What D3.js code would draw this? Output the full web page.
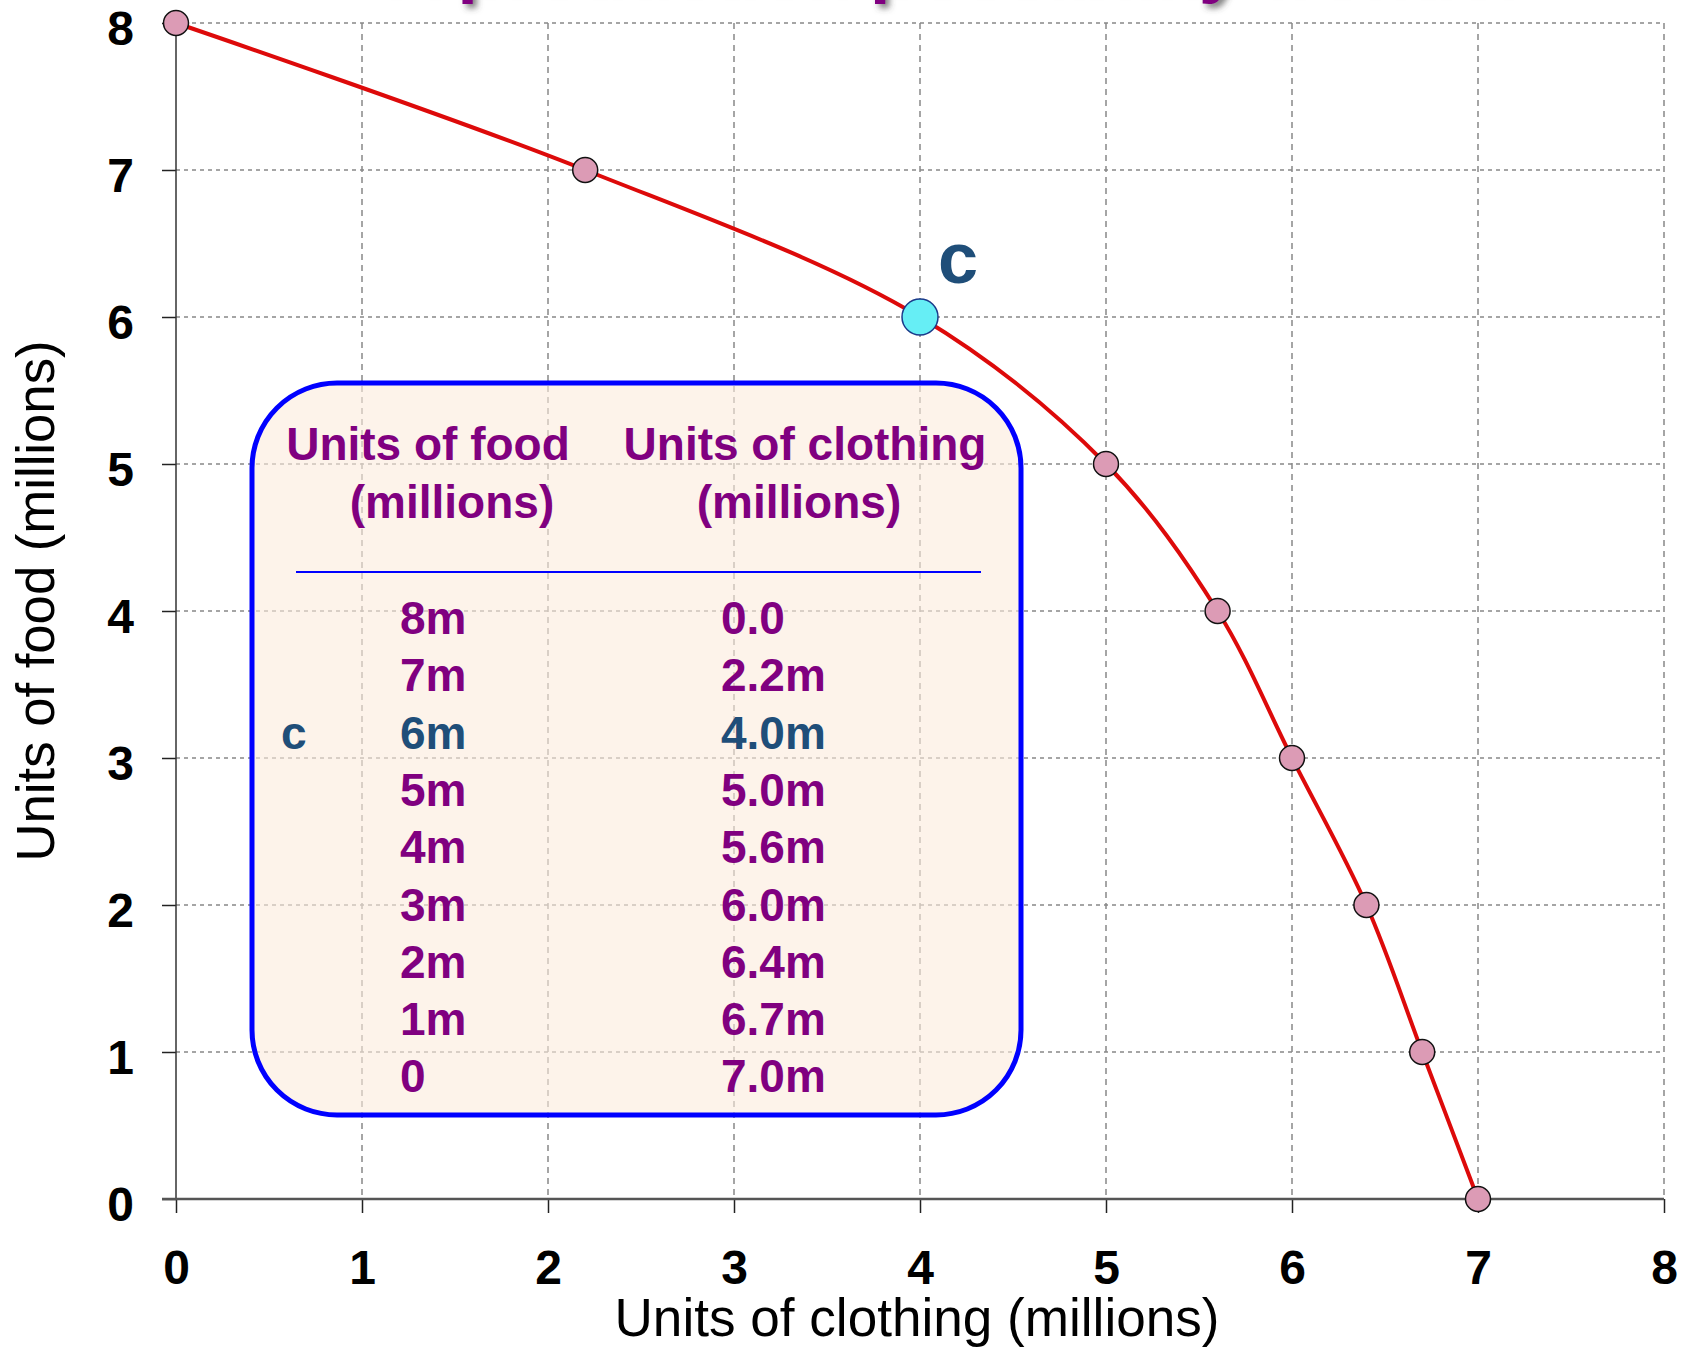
<!DOCTYPE html>
<html>
<head>
<meta charset="utf-8">
<script src="https://cdn.jsdelivr.net/npm/d3@7"></script>
<style>
  body { margin: 0; background: #fff; }
  svg { display: block; }
</style>
</head>
<body>
<div id="chart"></div>
<script>
// production possibility data (millions)
let foodUnits = [8, 7, 6, 5, 4, 3, 2, 1, 0]
let clothingUnits = [0.0, 2.2, 4.0, 5.0, 5.6, 6.0, 6.4, 6.7, 7.0]
let foodLabels = ["8m", "7m", "6m", "5m", "4m", "3m", "2m", "1m", "0"]
let clothingLabels = ["0.0", "2.2m", "4.0m", "5.0m", "5.6m", "6.0m", "6.4m", "6.7m", "7.0m"]
let pointNames = ["", "", "c", "", "", "", "", "", ""]
let xTicks = [0, 1, 2, 3, 4, 5, 6, 7, 8]
let yTicks = [0, 1, 2, 3, 4, 5, 6, 7, 8]

let width = 1684,
    height = 1349

let plot = { left: 176, right: 1664, top: 23, bottom: 1199 }

let purple = "#800080",
    navy = "#1f4e79",
    narrow = "'Liberation Sans Narrow', 'Arial Narrow', 'Liberation Sans', Arial, sans-serif",
    sans = "'Liberation Sans', Arial, sans-serif"

let data = foodUnits.map(function (f, i) {
    return { food: f, clothing: clothingUnits[i], name: pointNames[i] }
})

let xScale = d3.scaleLinear().domain([0, 8]).range([plot.left, plot.right])
let yScale = d3.scaleLinear().domain([0, 8]).range([plot.bottom, plot.top])

let svg = d3.select("#chart")
    .append("svg")
    .attr("width", width)
    .attr("height", height)

let defs = svg.append("defs")
defs.append("filter")
    .attr("id", "shadow")
    .attr("x", "-20%").attr("y", "-50%")
    .attr("width", "140%").attr("height", "200%")
    .append("feDropShadow")
    .attr("dx", 4).attr("dy", 4)
    .attr("stdDeviation", 3)
    .attr("flood-color", "#444")
    .attr("flood-opacity", 0.7)

// title, cut off by the top edge (only descenders show)
svg.append("text")
    .attr("x", 385)
    .attr("y", -11)
    .attr("font-family", sans)
    .attr("font-weight", "bold")
    .attr("font-size", 75)
    .attr("fill", purple)
    .attr("filter", "url(#shadow)")
    .text("A production possibility frontier")

// grid
svg.append("g")
    .selectAll("line")
    .data(yTicks.filter(function (d) { return d > 0 }))
    .enter().append("line")
    .attr("x1", plot.left).attr("x2", plot.right)
    .attr("y1", function (d) { return yScale(d) })
    .attr("y2", function (d) { return yScale(d) })
    .attr("stroke", "#888")
    .attr("stroke-width", 1.5)
    .attr("stroke-dasharray", "4,4")

svg.append("g")
    .selectAll("line")
    .data(xTicks.filter(function (d) { return d > 0 }))
    .enter().append("line")
    .attr("x1", function (d) { return xScale(d) })
    .attr("x2", function (d) { return xScale(d) })
    .attr("y1", plot.top).attr("y2", plot.bottom)
    .attr("stroke", "#888")
    .attr("stroke-width", 1.5)
    .attr("stroke-dasharray", "6,5")

// axes
let xAxis = d3.axisBottom(xScale)
    .tickValues(xTicks)
    .tickSize(14)
    .tickPadding(37)
    .tickFormat(d3.format("d"))

let yAxis = d3.axisLeft(yScale)
    .tickValues(yTicks)
    .tickSize(14)
    .tickPadding(28)
    .tickFormat(d3.format("d"))

let gx = svg.append("g")
    .attr("transform", "translate(0," + plot.bottom + ")")
    .call(xAxis)
gx.select(".domain").remove()
gx.selectAll(".tick line").attr("stroke", "#222").attr("stroke-width", 1.5)

let gy = svg.append("g")
    .attr("transform", "translate(" + plot.left + ",0)")
    .call(yAxis)
gy.select(".domain").remove()
gy.selectAll(".tick line").attr("stroke", "#222").attr("stroke-width", 1.5)
gy.selectAll(".tick text").attr("dy", "0.45em")

svg.selectAll(".tick text")
    .attr("font-family", narrow)
    .attr("font-weight", "bold")
    .attr("font-size", 48)
    .attr("fill", "#000")

// axis lines
svg.append("line")
    .attr("x1", plot.left).attr("x2", plot.left)
    .attr("y1", plot.top).attr("y2", plot.bottom)
    .attr("stroke", "#333").attr("stroke-width", 1.5)

svg.append("line")
    .attr("x1", plot.left - 14).attr("x2", plot.right)
    .attr("y1", plot.bottom).attr("y2", plot.bottom)
    .attr("stroke", "#555").attr("stroke-width", 2.5)

// axis titles
svg.append("text")
    .attr("x", 917)
    .attr("y", 1336)
    .attr("text-anchor", "middle")
    .attr("font-family", narrow)
    .attr("font-size", 53)
    .attr("textLength", 605)
    .attr("lengthAdjust", "spacingAndGlyphs")
    .text("Units of clothing (millions)")

svg.append("text")
    .attr("transform", "translate(54,601) rotate(-90)")
    .attr("text-anchor", "middle")
    .attr("font-family", narrow)
    .attr("font-size", 53)
    .attr("textLength", 521)
    .attr("lengthAdjust", "spacingAndGlyphs")
    .text("Units of food (millions)")

// table box
let box = { x: 252, y: 383, w: 769, h: 732 }

svg.append("rect")
    .attr("x", box.x).attr("y", box.y)
    .attr("width", box.w).attr("height", box.h)
    .attr("rx", 85).attr("ry", 85)
    .attr("fill", "#fcebdc")
    .attr("fill-opacity", 0.6)
    .attr("stroke", "#0000ff")
    .attr("stroke-width", 5)

let header = svg.append("g")
    .attr("font-family", narrow)
    .attr("font-weight", "bold")
    .attr("font-size", 46)
    .attr("fill", purple)
    .attr("text-anchor", "middle")

header.append("text").attr("x", 428).attr("y", 460).text("Units of food")
header.append("text").attr("x", 452).attr("y", 518).text("(millions)")
header.append("text").attr("x", 805).attr("y", 460).text("Units of clothing")
header.append("text").attr("x", 799).attr("y", 518).text("(millions)")

svg.append("line")
    .attr("x1", 296).attr("x2", 981)
    .attr("y1", 572).attr("y2", 572)
    .attr("stroke", "#0000ff")
    .attr("stroke-width", 2)

let rowStep = 57.3
let rows = svg.append("g")
    .attr("font-family", narrow)
    .attr("font-weight", "bold")
    .attr("font-size", 46)
    .selectAll("g")
    .data(data)
    .enter().append("g")
    .attr("transform", function (d, i) { return "translate(0," + (634 + i * rowStep) + ")" })
    .attr("fill", function (d) { return d.name ? navy : purple })

rows.append("text").attr("x", 281).text(function (d) { return d.name })
rows.append("text").attr("x", 400).text(function (d, i) { return foodLabels[i] })
rows.append("text").attr("x", 721).text(function (d, i) { return clothingLabels[i] })

// frontier curve
let line = d3.line()
    .x(function (d) { return xScale(d.clothing) })
    .y(function (d) { return yScale(d.food) })
    .curve(d3.curveCatmullRom.alpha(0.5))

svg.append("path")
    .datum(data)
    .attr("d", line)
    .attr("fill", "none")
    .attr("stroke", "#dd0a0a")
    .attr("stroke-width", 4)

svg.append("g")
    .selectAll("circle")
    .data(data)
    .enter().append("circle")
    .attr("cx", function (d) { return xScale(d.clothing) })
    .attr("cy", function (d) { return yScale(d.food) })
    .attr("r", function (d) { return d.name ? 18 : 12.5 })
    .attr("fill", function (d) { return d.name ? "#66eef5" : "#dc9bb5" })
    .attr("stroke", function (d) { return d.name ? "#1a3a8a" : "#111" })
    .attr("stroke-width", 1.5)

// point label
svg.append("g")
    .selectAll("text")
    .data(data.filter(function (d) { return d.name }))
    .enter().append("text")
    .attr("x", function (d) { return xScale(d.clothing) + 38 })
    .attr("y", function (d) { return yScale(d.food) - 34 })
    .attr("text-anchor", "middle")
    .attr("font-family", sans)
    .attr("font-weight", "bold")
    .attr("font-size", 72)
    .attr("fill", navy)
    .text(function (d) { return d.name })
</script>
</body>
</html>
